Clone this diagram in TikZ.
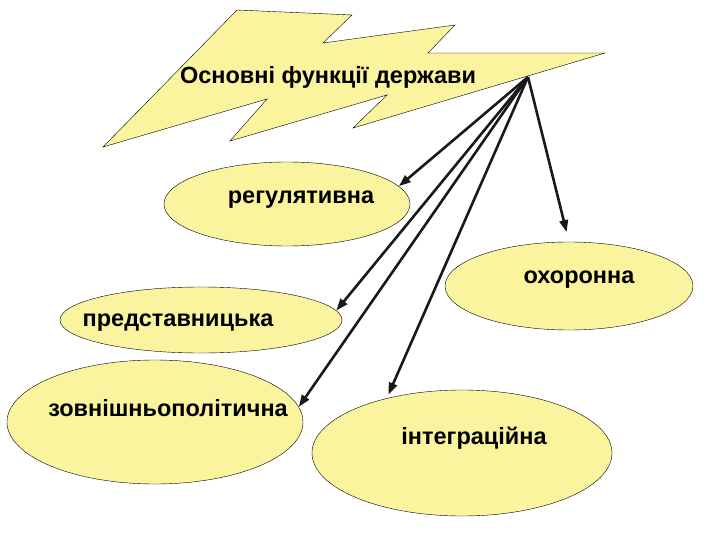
\documentclass[tikz,border=0pt]{standalone}
\usepackage{fontspec}
\setmainfont{Liberation Sans}
\usetikzlibrary{shapes.geometric,arrows.meta}
\definecolor{paleyellow}{RGB}{250,244,158}
\tikzset{
  func/.style={ellipse,draw,thin,fill=paleyellow,inner sep=0pt},
  funclabel/.style={font=\bfseries\fontsize{23.5}{28}\selectfont},
  link/.style={-{Triangle[length=12pt,width=8.5pt]},line width=2.6pt,black!90}
}
\begin{document}
\begin{tikzpicture}[x=1pt,y=-1pt]
  \useasboundingbox (0,0) rectangle (720,540);
  % the bolt
  \draw[thin,fill=paleyellow] (237,10)--(352,15)--(323,43)--(455,25)--(428,53)--(605,53)--
    (353,128)--(387,95)--(230,141)--(267,99)--(103,147)--cycle;
  \node[funclabel] (title) at (328,77) {Основні функції держави};
  \coordinate (bolt) at (528,77);
  % the functions
  \node[func,minimum width=246pt,minimum height=84pt] (reg) at (287,204) {};
  \node[func,minimum width=248pt,minimum height=88pt] (oho) at (569,286) {};
  \node[func,minimum width=282pt,minimum height=66pt] (pred) at (201,320) {};
  \node[func,minimum width=296pt,minimum height=124pt] (zovn) at (155,422) {};
  \node[func,minimum width=300pt,minimum height=126pt] (integ) at (462,453) {};
  \node[funclabel] (regtext) at (301,200) {регулятивна};
  \node[funclabel] (ohotext) at (579,280) {охоронна};
  \node[funclabel] (predtext) at (178,323) {представницька};
  \node[funclabel] (zovntext) at (168,408) {зовнішньополітична};
  \node[funclabel] (integtext) at (474,438) {інтеграційна};
  % arrows
  \draw[link] (bolt)--(reg.9);
  \draw[link,shorten >=10pt] (bolt)--(oho.north);
  \draw[link] (bolt)--(pred.4);
  \draw[link] (bolt)--(zovn.6);
  \draw[link,shorten >=4pt] (bolt)--(integ.144);
\end{tikzpicture}
\end{document}
